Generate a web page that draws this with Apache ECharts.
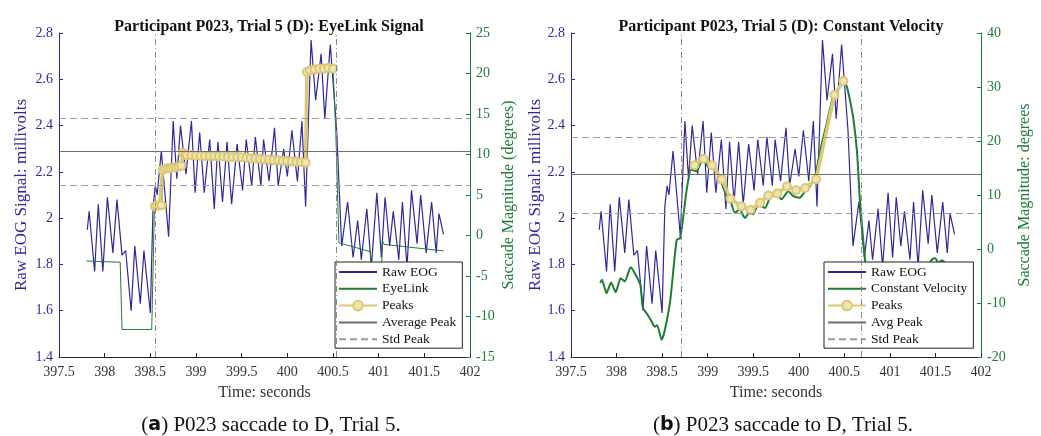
<!DOCTYPE html>
<html>
<head>
<meta charset="utf-8">
<script src="https://cdn.jsdelivr.net/npm/echarts@6/dist/echarts.min.js"></script>
<style>
  html, body { margin: 0; padding: 0; background: #fff; }
  #chart { width: 1041px; height: 436px; }
</style>
</head>
<body>
<div id="chart"></div>
<script>
// raw EOG (same signal in both panels): time (s), millivolts
var eogT = [397.81, 397.83, 397.89, 397.93, 397.98, 398.03, 398.09, 398.135, 398.19, 398.23,
  398.29, 398.33, 398.39, 398.43, 398.50, 398.53, 398.555, 398.575, 398.62, 398.70,
  398.75, 398.79, 398.83, 398.89, 398.95, 398.99, 399.04, 399.09, 399.15, 399.20,
  399.24, 399.29, 399.34, 399.39, 399.45, 399.51, 399.55, 399.61, 399.65, 399.71,
  399.74, 399.80, 399.86, 399.90, 399.96, 400.00, 400.05, 400.11, 400.16, 400.20,
  400.26, 400.31, 400.37, 400.41, 400.47, 400.54, 400.595, 400.66, 400.72, 400.77,
  400.81, 400.87, 400.92, 400.98, 401.03, 401.07, 401.12, 401.16, 401.22, 401.26,
  401.31, 401.36, 401.42, 401.46, 401.52, 401.58, 401.63, 401.66, 401.71];
var eogV = [1.95, 2.03, 1.77, 2.06, 1.77, 2.09, 1.85, 2.08, 1.84, 1.86,
  1.60, 1.88, 1.63, 1.86, 1.59, 2.05, 2.14, 2.10, 2.29, 1.92,
  2.42, 2.17, 2.40, 2.19, 2.42, 2.11, 2.37, 2.11, 2.34, 2.04,
  2.33, 2.07, 2.33, 2.06, 2.32, 2.12, 2.34, 2.14, 2.35, 2.14,
  2.34, 2.16, 2.39, 2.14, 2.30, 2.18, 2.38, 2.16, 2.42, 2.05,
  2.77, 2.51, 2.71, 2.43, 2.75, 2.38, 1.88, 2.07, 1.83, 1.99,
  1.82, 2.04, 1.79, 2.11, 1.83, 2.09, 1.88, 2.03, 1.82, 2.07,
  1.79, 2.12, 1.89, 2.10, 1.85, 2.07, 1.85, 2.02, 1.93];

// panel (a): EyeLink signal, degrees
var eyeT = [397.80, 398.17, 398.19, 398.515, 398.545, 398.625, 398.635, 398.84, 398.85, 400.20,
  400.22, 400.50, 400.53, 400.565, 400.91, 400.92, 401.03, 401.04, 401.06, 401.71];
var eyeV = [-3.15, -3.3, -11.6, -11.6, 3.6, 3.7, 8.2, 8.3, 10.0, 9.0,
  20.3, 20.6, 13.0, -0.9, -2.0, -6.0, -6.0, -0.6, -1.1, -1.9];

// panel (a): peaks, degrees
var peakAT = [398.55, 398.575, 398.60, 398.62, 398.635, 398.66, 398.69, 398.72, 398.75, 398.78,
  398.81, 398.84, 398.855, 398.88, 398.90, 398.95, 399.00, 399.05, 399.10, 399.15,
  399.20, 399.25, 399.30, 399.35, 399.40, 399.45, 399.50, 399.55, 399.60, 399.65,
  399.70, 399.75, 399.80, 399.85, 399.90, 399.95, 400.00, 400.05, 400.10, 400.15,
  400.20, 400.215, 400.25, 400.30, 400.35, 400.40, 400.45, 400.50];
var peakAV = [3.6, 3.7, 3.7, 3.75, 8.1, 8.2, 8.3, 8.3, 8.4, 8.4,
  8.5, 8.6, 10.2, 9.9, 9.9, 9.9, 9.85, 9.85, 9.8, 9.8,
  9.8, 9.75, 9.75, 9.7, 9.7, 9.7, 9.65, 9.6, 9.55, 9.5,
  9.45, 9.4, 9.35, 9.3, 9.3, 9.2, 9.2, 9.15, 9.1, 9.05,
  9.0, 20.2, 20.4, 20.5, 20.6, 20.6, 20.7, 20.6];

// panel (b): constant velocity, degrees
var cvT = [397.82, 397.84, 397.89, 397.94, 397.99, 398.045, 398.09, 398.155, 398.20, 398.26,
  398.29, 398.33, 398.385, 398.42, 398.445, 398.495, 398.53, 398.59, 398.66, 398.70,
  398.77, 398.82, 398.88, 398.95, 399.01, 399.06, 399.135, 399.21, 399.245, 399.30,
  399.35, 399.41, 399.465, 399.50, 399.555, 399.63, 399.685, 399.76, 399.81, 399.885,
  399.94, 400.01, 400.07, 400.12, 400.18, 400.23, 400.30, 400.38, 400.43, 400.49,
  400.525, 400.56, 400.60, 400.64, 400.67, 400.71, 400.73, 400.78, 400.85, 400.95,
  401.05, 401.15, 401.25, 401.35, 401.42, 401.47, 401.50, 401.53, 401.57, 401.62, 401.70];
var cvV = [-6.3, -5.7, -8.2, -6.2, -8.0, -5.4, -6.0, -3.4, -4.5, -6.6,
  -11.0, -11.9, -13.4, -14.4, -14.1, -16.8, -15.0, -9.4, 1.7, 2.05,
  11.0, 14.7, 14.4, 16.9, 15.05, 15.05, 12.9, 9.8, 9.2, 6.7,
  7.3, 5.75, 7.0, 6.4, 8.2, 7.6, 9.5, 10.1, 9.2, 10.7,
  9.8, 9.5, 10.7, 11.6, 13.5, 17.8, 22.8, 28.4, 29.6, 30.8,
  30.2, 27.7, 24.0, 17.8, 9.2, 1.1, -2.3, -6.0, -9.0, -8.0,
  -7.0, -6.5, -5.0, -4.5, -3.0, -1.8, -1.7, -2.6, -2.1, -2.8, -4.0];

// panel (b): peaks, degrees
var peakBT = [398.855, 398.955, 399.05, 399.155, 399.25, 399.37, 399.47, 399.575, 399.665, 399.765,
  399.87, 399.97, 400.07, 400.19, 400.39, 400.49];
var peakBV = [15.5, 16.7, 15.5, 12.9, 9.3, 7.9, 7.2, 8.55, 9.9, 10.3,
  11.6, 10.9, 11.3, 12.9, 28.5, 31.1];

// peak statistics (millivolts): [panel a, panel b]
var avgPeak = [2.285, 2.187];
var stdHigh = [2.432, 2.348];
var stdLow = [2.142, 2.024];
// saccade start / end markers (s)
var saccadeA = [398.55, 400.54];
var saccadeB = [398.715, 400.69];

var FONT = '"Liberation Serif", "DejaVu Serif", serif';
var BLUE = '#30279a';
var GREEN = '#1c7d34';
var GOLD = '#dac874';

function pairs(t, v) {
  return t.map(function (x, i) { return [x, v[i]]; });
}

var myChart = echarts.init(document.getElementById('chart'));

function xAxisFor(i) {
  return {
    type: 'value', gridIndex: i, min: 397.5, max: 402, interval: 0.5,
    name: 'Time: seconds', nameLocation: 'middle', nameGap: 28,
    nameTextStyle: { fontFamily: FONT, fontSize: 16, color: '#333' },
    axisLine: { onZero: false, lineStyle: { color: '#222' } },
    axisTick: { inside: true, length: 4, lineStyle: { color: '#222' } },
    axisLabel: { fontFamily: FONT, fontSize: 14, color: '#333', margin: 8 },
    splitLine: { show: false }
  };
}

function mvAxis(i, gap) {
  return {
    type: 'value', gridIndex: i, position: 'left', min: 1.4, max: 2.8, interval: 0.2,
    name: 'Raw EOG Signal: millivolts', nameLocation: 'middle', nameGap: gap,
    nameTextStyle: { fontFamily: FONT, fontSize: 17, color: BLUE },
    axisLine: { show: true, onZero: false, lineStyle: { color: BLUE } },
    axisTick: { show: true, inside: true, length: 4, lineStyle: { color: BLUE } },
    axisLabel: { fontFamily: FONT, fontSize: 14, color: BLUE, margin: 6 },
    splitLine: { show: false }
  };
}

function degAxis(i, min, max, step, name, gap) {
  return {
    type: 'value', gridIndex: i, position: 'right', min: min, max: max, interval: step,
    name: name, nameLocation: 'middle', nameGap: gap, nameRotate: 90,
    nameTextStyle: { fontFamily: FONT, fontSize: 16, color: GREEN },
    axisLine: { show: true, onZero: false, lineStyle: { color: GREEN } },
    axisTick: { show: true, inside: true, length: 4, lineStyle: { color: GREEN } },
    axisLabel: { fontFamily: FONT, fontSize: 14, color: GREEN, margin: 6 },
    splitLine: { show: false }
  };
}

function eogSeries(i) {
  return {
    name: 'Raw EOG', type: 'line', xAxisIndex: i, yAxisIndex: i * 2,
    data: pairs(eogT, eogV), showSymbol: false, symbol: 'none',
    lineStyle: { color: BLUE, width: 1.2 }, itemStyle: { color: BLUE }, z: 2
  };
}

function peakSeries(i, t, v, size) {
  return {
    name: 'Peaks', type: 'line', xAxisIndex: i, yAxisIndex: i * 2 + 1,
    data: pairs(t, v), symbol: 'circle', symbolSize: size,
    lineStyle: { color: GOLD, width: 3.5 },
    itemStyle: { color: '#efe4b4', borderColor: GOLD, borderWidth: 2 }, z: 4
  };
}

function statSeries(i, name, values, type) {
  var c = type === 'solid' ? '#6e6e6e' : '#9a9a9a';
  var dash = type === 'solid' ? 'solid' : [7, 4];
  return {
    name: name, type: 'line', xAxisIndex: i, yAxisIndex: i * 2, data: [],
    symbol: 'none', lineStyle: { color: c, width: 1.2, type: dash },
    itemStyle: { color: c },
    markLine: {
      silent: true, symbol: 'none', label: { show: false }, animation: false,
      lineStyle: { color: c, width: 1.2, type: dash },
      data: values.map(function (y) { return { yAxis: y }; })
    }, z: 1
  };
}

function saccadeSeries(i, marks) {
  return {
    name: 'saccade', type: 'line', xAxisIndex: i, yAxisIndex: i * 2, data: [],
    markLine: {
      silent: true, symbol: 'none', label: { show: false }, animation: false,
      lineStyle: { color: '#8a8a8a', width: 1, type: [6, 3, 1, 3] },
      data: marks.map(function (x) { return { xAxis: x }; })
    }, z: 1
  };
}

function legendFor(left, names) {
  return {
    orient: 'vertical', left: left, top: 262,
    data: names.map(function (n) {
      return n === 'Peaks' ? { name: n } : { name: n, itemStyle: { opacity: 0 } };
    }),
    backgroundColor: '#fff', borderColor: '#222', borderWidth: 1,
    padding: [3, 6, 2, 3], itemWidth: 38, itemHeight: 12, itemGap: 2.8,
    textStyle: { fontFamily: FONT, fontSize: 13.5, color: '#111' },
    selectedMode: false
  };
}

function caption(letter, x) {
  return {
    text: '({b|' + letter + '}) P023 saccade to D, Trial 5.', left: x, top: 410, textAlign: 'center',
    textStyle: { fontFamily: FONT, fontSize: 21, fontWeight: 'normal', color: '#111',
      rich: { b: { fontFamily: '"DejaVu Sans", sans-serif', fontSize: 19, fontWeight: 'bold', color: '#111' } } }
  };
}

var option = {
  animation: false,
  title: [
    { text: 'Participant P023, Trial 5 (D): EyeLink Signal', left: 264, top: 14, textAlign: 'center',
      textStyle: { fontFamily: FONT, fontSize: 16, fontWeight: 'bold', color: '#111' } },
    { text: 'Participant P023, Trial 5 (D): Constant Velocity', left: 776, top: 14, textAlign: 'center',
      textStyle: { fontFamily: FONT, fontSize: 16, fontWeight: 'bold', color: '#111' } },
    caption('a', 266),
    caption('b', 778)
  ],
  legend: [
    legendFor(335, ['Raw EOG', 'EyeLink', 'Peaks', 'Average Peak', 'Std Peak']),
    legendFor(824, ['Raw EOG', 'Constant Velocity', 'Peaks', 'Avg Peak', 'Std Peak'])
  ],
  grid: [
    { left: 59, right: 571, top: 33, bottom: 79 },
    { left: 571, right: 60, top: 33, bottom: 79 }
  ],
  xAxis: [xAxisFor(0), xAxisFor(1)],
  yAxis: [
    mvAxis(0, 29),
    degAxis(0, -15, 25, 5, 'Saccade Magnitude (degrees)', 31),
    mvAxis(1, 27),
    degAxis(1, -20, 40, 10, 'Saccade Magnitude: degrees', 36)
  ],
  series: [
    saccadeSeries(0, saccadeA),
    statSeries(0, 'Average Peak', [avgPeak[0]], 'solid'),
    statSeries(0, 'Std Peak', [stdHigh[0], stdLow[0]], 'dashed'),
    eogSeries(0),
    {
      name: 'EyeLink', type: 'line', xAxisIndex: 0, yAxisIndex: 1,
      data: pairs(eyeT, eyeV), symbol: 'none',
      lineStyle: { color: GREEN, width: 1 }, itemStyle: { color: GREEN }, z: 3
    },
    peakSeries(0, peakAT, peakAV, 8),

    saccadeSeries(1, saccadeB),
    statSeries(1, 'Avg Peak', [avgPeak[1]], 'solid'),
    statSeries(1, 'Std Peak', [stdHigh[1], stdLow[1]], 'dashed'),
    eogSeries(1),
    {
      name: 'Constant Velocity', type: 'line', xAxisIndex: 1, yAxisIndex: 3,
      data: pairs(cvT, cvV), symbol: 'none', smooth: 0.2,
      lineStyle: { color: GREEN, width: 2 }, itemStyle: { color: GREEN }, z: 3
    },
    peakSeries(1, peakBT, peakBV, 8)
  ]
};

myChart.setOption(option);
</script>
</body>
</html>
